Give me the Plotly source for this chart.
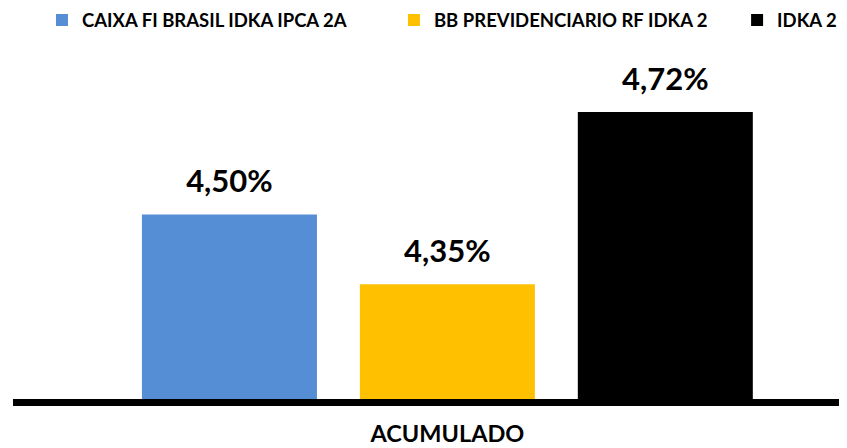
import plotly.graph_objects as go

categories = ["ACUMULADO"]
funds = ["CAIXA FI BRASIL IDKA IPCA 2A", "BB PREVIDENCIARIO RF IDKA 2", "IDKA 2"]
returns = [4.50, 4.35, 4.72]
labels = ["4,50%", "4,35%", "4,72%"]
colors = ["#558ED5", "#FFC000", "#000000"]
legend_x = [0.0405, 0.460, 0.869]  # left edge of each legend entry (fraction of width)

FONT = "Lato"
legend_ids = ["legend", "legend2", "legend3"]

# page body has an 8px margin, so the figure is drawn 8px smaller
W, H = 839, 440

fig = go.Figure()

for name, val, col, lg in zip(funds, returns, colors, legend_ids):
    fig.add_trace(go.Bar(
        x=categories, y=[val], name=name, offsetgroup=name, legend=lg,
        marker=dict(color=col, line=dict(width=0)),
        hoverinfo="skip",
    ))

# value labels: invisible grouped markers push the text above the bar tops
for name, val, lab in zip(funds, returns, labels):
    fig.add_trace(go.Scatter(
        x=categories, y=[val], offsetgroup=name, mode="markers+text",
        text=[lab], textposition="top center",
        textfont=dict(family=FONT, size=31, color="#000000", weight="bold"),
        marker=dict(size=22, color="rgba(0,0,0,0)"),
        showlegend=False, hoverinfo="skip", cliponaxis=False,
    ))

legend_style = dict(
    orientation="h", xref="container", yref="container",
    y=1 - 12.5 / H, xanchor="left", yanchor="middle",
    font=dict(family=FONT, size=18.5, color="#000000", weight="bold"),
    bgcolor="rgba(0,0,0,0)",
)

fig.update_layout(
    width=W, height=H,
    margin=dict(l=5, r=0, t=65, b=49, autoexpand=False),
    paper_bgcolor="white", plot_bgcolor="white",
    barmode="group", bargap=0.2474, bargroupgap=0.197,
    scattermode="group",
    font=dict(family=FONT, color="#000000"),
    showlegend=True,
    legend=dict(legend_style, x=legend_x[0]),
    legend2=dict(legend_style, x=legend_x[1]),
    legend3=dict(legend_style, x=legend_x[2]),
    xaxis=dict(
        range=[-0.5, 0.46], showgrid=False, zeroline=False,
        showline=True, linecolor="#000000", linewidth=7,
        ticks="", tickfont=dict(family=FONT, size=23.5, color="#000000", weight="bold"),
        ticklabelstandoff=8, automargin=False,
    ),
    yaxis=dict(
        range=[4.103, 4.804], visible=False, showgrid=False, zeroline=False,
        automargin=False,
    ),
)

fig.write_html("out.html")
